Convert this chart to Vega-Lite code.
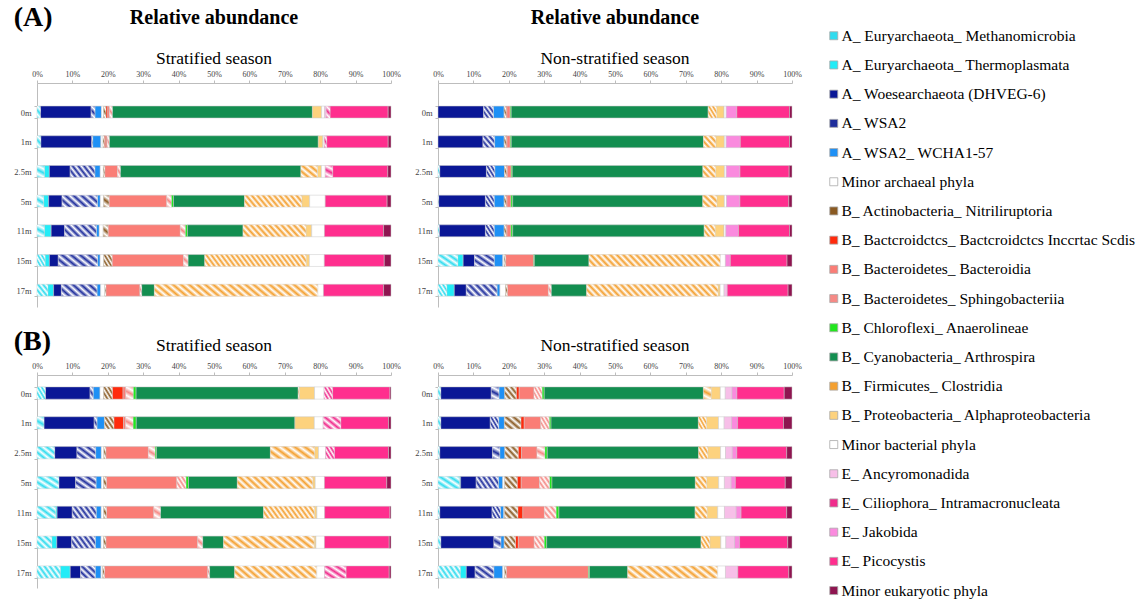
{
"$schema": "https://vega.github.io/schema/vega-lite/v6.json",
"padding": {"left": 13, "top": 3, "right": 0, "bottom": 0},
"config": {
  "font": "Liberation Serif",
  "view": {"stroke": null},
  "title": {"font": "Liberation Serif", "color": "#000", "subtitleFont": "Liberation Serif", "subtitleColor": "#000"},
  "axis": {"labelFont": "Liberation Serif", "domainColor": "#bdbdbd", "tickColor": "#bdbdbd", "labelColor": "#444", "grid": false, "title": null},
  "style": {
    "hA": {"color": {"gradient": "linear", "x1": 0, "y1": 1, "x2": 0.4, "y2": -0.2, "stops": [
      {"offset": 0, "color": "rgba(255,255,255,0)"}, {"offset": 0.25, "color": "#fff"}, {"offset": 0.5, "color": "rgba(255,255,255,0)"}, {"offset": 0.75, "color": "#fff"}, {"offset": 1, "color": "rgba(255,255,255,0)"}]}},
    "hB": {"color": {"gradient": "linear", "x1": 0, "y1": 1, "x2": 1.0706, "y2": 0.0824, "stops": [
      {"offset": 0, "color": "rgba(255,255,255,0)"}, {"offset": 0.125, "color": "#fff"}, {"offset": 0.25, "color": "rgba(255,255,255,0)"}, {"offset": 0.375, "color": "#fff"}, {"offset": 0.5, "color": "rgba(255,255,255,0)"}, {"offset": 0.625, "color": "#fff"}, {"offset": 0.75, "color": "rgba(255,255,255,0)"}, {"offset": 0.875, "color": "#fff"}, {"offset": 1, "color": "rgba(255,255,255,0)"}]}},
    "hC": {"color": {"gradient": "linear", "x1": 0, "y1": 1, "x2": 1.2055, "y2": 0.548, "stops": [
      {"offset": 0, "color": "rgba(255,255,255,0)"}, {"offset": 0.0833, "color": "#fff"}, {"offset": 0.1667, "color": "rgba(255,255,255,0)"}, {"offset": 0.25, "color": "#fff"}, {"offset": 0.3333, "color": "rgba(255,255,255,0)"}, {"offset": 0.4167, "color": "#fff"}, {"offset": 0.5, "color": "rgba(255,255,255,0)"}, {"offset": 0.5833, "color": "#fff"}, {"offset": 0.6667, "color": "rgba(255,255,255,0)"}, {"offset": 0.75, "color": "#fff"}, {"offset": 0.8333, "color": "rgba(255,255,255,0)"}, {"offset": 0.9167, "color": "#fff"}, {"offset": 1, "color": "rgba(255,255,255,0)"}]}},
    "hD": {"color": {"gradient": "linear", "x1": 0, "y1": 1, "x2": 1.138, "y2": 0.805, "stops": [
      {"offset": 0, "color": "rgba(255,255,255,0)"}, {"offset": 0.0417, "color": "#fff"}, {"offset": 0.0833, "color": "rgba(255,255,255,0)"}, {"offset": 0.125, "color": "#fff"}, {"offset": 0.1667, "color": "rgba(255,255,255,0)"}, {"offset": 0.2083, "color": "#fff"}, {"offset": 0.25, "color": "rgba(255,255,255,0)"}, {"offset": 0.2917, "color": "#fff"}, {"offset": 0.3333, "color": "rgba(255,255,255,0)"}, {"offset": 0.375, "color": "#fff"}, {"offset": 0.4167, "color": "rgba(255,255,255,0)"}, {"offset": 0.4583, "color": "#fff"}, {"offset": 0.5, "color": "rgba(255,255,255,0)"}, {"offset": 0.5417, "color": "#fff"}, {"offset": 0.5833, "color": "rgba(255,255,255,0)"}, {"offset": 0.625, "color": "#fff"}, {"offset": 0.6667, "color": "rgba(255,255,255,0)"}, {"offset": 0.7083, "color": "#fff"}, {"offset": 0.75, "color": "rgba(255,255,255,0)"}, {"offset": 0.7917, "color": "#fff"}, {"offset": 0.8333, "color": "rgba(255,255,255,0)"}, {"offset": 0.875, "color": "#fff"}, {"offset": 0.9167, "color": "rgba(255,255,255,0)"}, {"offset": 0.9583, "color": "#fff"}, {"offset": 1, "color": "rgba(255,255,255,0)"}]}},
    "hE": {"color": {"gradient": "linear", "x1": 0, "y1": 1, "x2": 1.0778, "y2": 0.9076, "stops": [
      {"offset": 0, "color": "rgba(255,255,255,0)"}, {"offset": 0.0227, "color": "#fff"}, {"offset": 0.0455, "color": "rgba(255,255,255,0)"}, {"offset": 0.0682, "color": "#fff"}, {"offset": 0.0909, "color": "rgba(255,255,255,0)"}, {"offset": 0.1136, "color": "#fff"}, {"offset": 0.1364, "color": "rgba(255,255,255,0)"}, {"offset": 0.1591, "color": "#fff"}, {"offset": 0.1818, "color": "rgba(255,255,255,0)"}, {"offset": 0.2045, "color": "#fff"}, {"offset": 0.2273, "color": "rgba(255,255,255,0)"}, {"offset": 0.25, "color": "#fff"}, {"offset": 0.2727, "color": "rgba(255,255,255,0)"}, {"offset": 0.2955, "color": "#fff"}, {"offset": 0.3182, "color": "rgba(255,255,255,0)"}, {"offset": 0.3409, "color": "#fff"}, {"offset": 0.3636, "color": "rgba(255,255,255,0)"}, {"offset": 0.3864, "color": "#fff"}, {"offset": 0.4091, "color": "rgba(255,255,255,0)"}, {"offset": 0.4318, "color": "#fff"}, {"offset": 0.4545, "color": "rgba(255,255,255,0)"}, {"offset": 0.4773, "color": "#fff"}, {"offset": 0.5, "color": "rgba(255,255,255,0)"}, {"offset": 0.5227, "color": "#fff"}, {"offset": 0.5455, "color": "rgba(255,255,255,0)"}, {"offset": 0.5682, "color": "#fff"}, {"offset": 0.5909, "color": "rgba(255,255,255,0)"}, {"offset": 0.6136, "color": "#fff"}, {"offset": 0.6364, "color": "rgba(255,255,255,0)"}, {"offset": 0.6591, "color": "#fff"}, {"offset": 0.6818, "color": "rgba(255,255,255,0)"}, {"offset": 0.7045, "color": "#fff"}, {"offset": 0.7273, "color": "rgba(255,255,255,0)"}, {"offset": 0.75, "color": "#fff"}, {"offset": 0.7727, "color": "rgba(255,255,255,0)"}, {"offset": 0.7955, "color": "#fff"}, {"offset": 0.8182, "color": "rgba(255,255,255,0)"}, {"offset": 0.8409, "color": "#fff"}, {"offset": 0.8636, "color": "rgba(255,255,255,0)"}, {"offset": 0.8864, "color": "#fff"}, {"offset": 0.9091, "color": "rgba(255,255,255,0)"}, {"offset": 0.9318, "color": "#fff"}, {"offset": 0.9545, "color": "rgba(255,255,255,0)"}, {"offset": 0.9773, "color": "#fff"}, {"offset": 1, "color": "rgba(255,255,255,0)"}]}}
  }
},
"datasets": {
  "cats": [
    {"k": "c01", "name": "A_ Euryarchaeota_ Methanomicrobia", "h": 1},
    {"k": "c02", "name": "A_ Euryarchaeota_ Thermoplasmata", "h": 0},
    {"k": "c03", "name": "A_ Woesearchaeota (DHVEG-6)", "h": 0},
    {"k": "c04", "name": "A_ WSA2", "h": 1},
    {"k": "c05", "name": "A_ WSA2_ WCHA1-57", "h": 0},
    {"k": "c06", "name": "Minor archaeal phyla", "h": 0},
    {"k": "c07", "name": "B_ Actinobacteria_ Nitriliruptoria", "h": 1},
    {"k": "c08", "name": "B_ Bactcroidctcs_ Bactcroidctcs Inccrtac Scdis", "h": 0},
    {"k": "c09", "name": "B_ Bacteroidetes_ Bacteroidia", "h": 0},
    {"k": "c10", "name": "B_ Bacteroidetes_ Sphingobacteriia", "h": 1},
    {"k": "c11", "name": "B_ Chloroflexi_ Anaerolineae", "h": 0},
    {"k": "c12", "name": "B_ Cyanobacteria_ Arthrospira", "h": 0},
    {"k": "c13", "name": "B_ Firmicutes_ Clostridia", "h": 1},
    {"k": "c14", "name": "B_ Proteobacteria_ Alphaproteobacteria", "h": 0},
    {"k": "c15", "name": "Minor bacterial phyla", "h": 0},
    {"k": "c16", "name": "E_ Ancyromonadida", "h": 0},
    {"k": "c17", "name": "E_ Ciliophora_ Intramacronucleata", "h": 1},
    {"k": "c18", "name": "E_ Jakobida", "h": 0},
    {"k": "c19", "name": "E_ Picocystis", "h": 0},
    {"k": "c20", "name": "Minor eukaryotic phyla", "h": 0}
  ]
},
"data": {"values": [
  {"p": "As", "d": "0m", "c01": 1, "c03": 14.3, "c04": 1.1, "c05": 1.8, "c06": 0.6, "c07": 0.7, "c08": 0.5, "c09": 0.5, "c10": 0.8, "c12": 56.5, "c14": 2.6, "c15": 0.8, "c16": 0.5, "c17": 1.1, "c19": 16.4, "c20": 0.8},
  {"p": "As", "d": "1m", "c01": 1.1, "c03": 14.4, "c04": 0.3, "c05": 2.3, "c06": 0.6, "c07": 0.4, "c08": 0.4, "c09": 0.4, "c10": 0.6, "c12": 59.2, "c14": 1.3, "c15": 0.4, "c17": 0.7, "c19": 17.4, "c20": 0.8},
  {"p": "As", "d": "2.5m", "c01": 2.1, "c02": 1.4, "c03": 5.9, "c04": 7.0, "c05": 1.5, "c06": 0.9, "c07": 0.4, "c09": 3.6, "c10": 0.8, "c12": 51.1, "c13": 4.7, "c14": 1.1, "c15": 1.1, "c17": 2.1, "c19": 15.6, "c20": 0.9},
  {"p": "As", "d": "5m", "c01": 1.9, "c02": 1.4, "c03": 3.8, "c04": 10.0, "c05": 0.8, "c06": 0.9, "c07": 1.6, "c09": 16.3, "c10": 1.3, "c11": 0.6, "c12": 20.1, "c13": 16.2, "c14": 2.2, "c15": 4.4, "c19": 17.5, "c20": 1.1},
  {"p": "As", "d": "11m", "c01": 2.1, "c02": 1.9, "c03": 3.8, "c04": 9.0, "c05": 0.8, "c06": 1.1, "c07": 1.4, "c09": 20.4, "c10": 1.4, "c11": 0.6, "c12": 15.7, "c13": 17.8, "c14": 1.6, "c15": 3.6, "c19": 16.7, "c20": 2.1},
  {"p": "As", "d": "15m", "c01": 2.3, "c02": 1.2, "c03": 2.5, "c04": 11.1, "c05": 0.7, "c06": 1.0, "c07": 2.4, "c09": 20.1, "c10": 1.3, "c12": 4.7, "c13": 28.6, "c14": 0.9, "c15": 4.2, "c19": 16.9, "c20": 1.9},
  {"p": "As", "d": "17m", "c01": 3.1, "c02": 1.6, "c03": 2.2, "c04": 10.1, "c05": 1.0, "c06": 1.2, "c07": 0.3, "c09": 9.6, "c10": 0.5, "c12": 3.6, "c13": 46.2, "c15": 1.6, "c19": 17.0, "c20": 2.1},
  {"p": "An", "d": "0m", "c03": 12.9, "c04": 2.8, "c05": 3.0, "c07": 0.6, "c08": 0.2, "c09": 0.9, "c11": 0.3, "c12": 55.7, "c13": 2.4, "c14": 2.1, "c15": 0.6, "c18": 3.0, "c19": 14.9, "c20": 0.7},
  {"p": "An", "d": "1m", "c03": 12.7, "c04": 3.3, "c05": 2.7, "c07": 0.6, "c08": 0.2, "c09": 0.9, "c11": 0.3, "c12": 54.3, "c13": 3.5, "c14": 2.4, "c15": 0.5, "c18": 4.0, "c19": 13.9, "c20": 0.7},
  {"p": "An", "d": "2.5m", "c01": 0.5, "c03": 13.2, "c04": 2.4, "c05": 2.7, "c07": 0.6, "c08": 0.2, "c09": 1.1, "c11": 0.3, "c12": 53.9, "c13": 3.6, "c14": 2.5, "c15": 0.5, "c18": 3.9, "c19": 13.9, "c20": 0.8},
  {"p": "An", "d": "5m", "c01": 0.2, "c03": 13.2, "c04": 2.5, "c05": 2.8, "c07": 0.6, "c08": 0.2, "c09": 1.1, "c11": 0.5, "c12": 53.7, "c13": 4.0, "c14": 2.1, "c15": 0.6, "c18": 3.8, "c19": 13.8, "c20": 0.9},
  {"p": "An", "d": "11m", "c01": 0.4, "c03": 13.0, "c04": 2.5, "c05": 2.8, "c07": 0.6, "c08": 0.2, "c09": 1.1, "c11": 0.5, "c12": 54.1, "c13": 3.1, "c14": 2.5, "c15": 0.5, "c18": 3.6, "c19": 14.4, "c20": 0.7},
  {"p": "An", "d": "15m", "c01": 5.6, "c02": 1.5, "c03": 3.2, "c04": 5.6, "c05": 2.4, "c06": 0.4, "c07": 0.4, "c09": 7.9, "c11": 0.2, "c12": 15.4, "c13": 37.1, "c15": 1.4, "c18": 1.4, "c19": 16.0, "c20": 1.4},
  {"p": "An", "d": "17m", "c01": 2.5, "c02": 2.1, "c03": 3.4, "c04": 8.7, "c05": 0.8, "c06": 1.6, "c07": 0.5, "c09": 11.6, "c10": 0.8, "c12": 10.0, "c13": 37.1, "c14": 0.6, "c15": 1.1, "c16": 0.9, "c19": 17.2, "c20": 1.1},
  {"p": "Bs", "d": "0m", "c01": 2.4, "c03": 12.6, "c04": 0.9, "c05": 1.9, "c06": 1.0, "c07": 2.5, "c08": 3.0, "c09": 0.8, "c10": 2.1, "c11": 0.8, "c12": 45.8, "c13": 0.3, "c14": 4.3, "c15": 2.7, "c17": 2.4, "c19": 16.2, "c20": 0.3},
  {"p": "Bs", "d": "1m", "c01": 2.0, "c03": 14.2, "c04": 0.8, "c05": 2.1, "c07": 2.7, "c08": 2.7, "c09": 0.6, "c10": 2.1, "c11": 0.9, "c12": 44.9, "c14": 5.5, "c15": 2.5, "c17": 5.0, "c19": 13.5, "c20": 0.7},
  {"p": "Bs", "d": "2.5m", "c01": 5.0, "c03": 6.3, "c04": 5.3, "c05": 1.6, "c06": 0.7, "c07": 0.6, "c09": 12.0, "c10": 1.9, "c11": 0.4, "c12": 32.2, "c13": 12.5, "c14": 1.1, "c15": 2.0, "c17": 2.5, "c19": 15.3, "c20": 0.7},
  {"p": "Bs", "d": "5m", "c01": 6.2, "c03": 4.7, "c04": 5.8, "c05": 1.5, "c06": 0.6, "c07": 0.8, "c09": 19.9, "c10": 2.6, "c11": 0.7, "c12": 13.8, "c13": 21.3, "c14": 0.7, "c15": 2.6, "c19": 17.6, "c20": 1.2},
  {"p": "Bs", "d": "11m", "c01": 5.3, "c02": 0.4, "c03": 4.3, "c04": 6.8, "c05": 1.4, "c06": 0.7, "c07": 0.8, "c09": 13.4, "c10": 1.9, "c12": 29.2, "c13": 14.4, "c14": 0.7, "c15": 2.2, "c19": 18.5, "c20": 0.3},
  {"p": "Bs", "d": "15m", "c01": 4.2, "c02": 1.4, "c03": 4.2, "c04": 6.7, "c05": 1.6, "c06": 0.7, "c07": 0.7, "c09": 25.9, "c10": 1.4, "c12": 5.9, "c13": 25.6, "c14": 0.5, "c15": 2.4, "c19": 18.3, "c20": 0.5},
  {"p": "Bs", "d": "17m", "c01": 6.6, "c02": 2.8, "c03": 2.9, "c04": 4.2, "c05": 1.6, "c06": 0.5, "c07": 0.5, "c09": 29.2, "c10": 0.5, "c12": 7.1, "c13": 23.2, "c15": 2.2, "c17": 6.1, "c19": 12.2, "c20": 0.5},
  {"p": "Bn", "d": "0m", "c01": 0.8, "c03": 14.3, "c04": 2.2, "c05": 1.6, "c07": 3.3, "c08": 0.8, "c09": 4.2, "c10": 2.3, "c11": 0.6, "c12": 45.1, "c13": 2.2, "c14": 2.6, "c15": 1.4, "c16": 1.9, "c18": 1.4, "c19": 13.4, "c20": 2.2},
  {"p": "Bn", "d": "1m", "c01": 0.8, "c03": 14.0, "c04": 2.4, "c05": 1.6, "c07": 4.7, "c08": 0.9, "c09": 4.7, "c10": 2.4, "c11": 0.5, "c12": 41.7, "c13": 2.3, "c14": 3.4, "c15": 1.6, "c16": 2.1, "c18": 1.7, "c19": 13.0, "c20": 2.4},
  {"p": "Bn", "d": "2.5m", "c01": 0.5, "c03": 14.9, "c04": 2.1, "c05": 1.4, "c07": 3.8, "c08": 0.9, "c09": 4.4, "c10": 2.2, "c11": 0.7, "c12": 42.8, "c13": 2.6, "c14": 3.6, "c15": 1.4, "c16": 1.9, "c18": 1.3, "c19": 14.1, "c20": 1.5},
  {"p": "Bn", "d": "5m", "c01": 6.1, "c02": 0.3, "c03": 4.4, "c04": 6.3, "c05": 1.2, "c06": 0.5, "c07": 3.6, "c08": 1.1, "c09": 5.2, "c10": 2.8, "c11": 0.7, "c12": 40.5, "c13": 3.2, "c14": 3.4, "c15": 1.6, "c16": 1.9, "c18": 1.2, "c19": 14.1, "c20": 1.9},
  {"p": "Bn", "d": "11m", "c01": 0.5, "c03": 14.8, "c04": 2.4, "c05": 0.9, "c06": 0.2, "c07": 3.8, "c08": 1.4, "c09": 6.1, "c10": 3.3, "c11": 0.8, "c12": 38.5, "c13": 3.4, "c14": 3.0, "c15": 1.9, "c16": 3.3, "c18": 1.4, "c19": 12.9, "c20": 1.5},
  {"p": "Bn", "d": "15m", "c01": 0.8, "c03": 15.0, "c04": 2.0, "c05": 0.9, "c07": 3.2, "c08": 0.8, "c09": 4.5, "c10": 2.8, "c11": 0.7, "c12": 43.6, "c13": 2.5, "c14": 3.1, "c15": 1.4, "c16": 2.5, "c18": 1.4, "c19": 13.6, "c20": 1.2},
  {"p": "Bn", "d": "17m", "c01": 6.3, "c02": 1.7, "c03": 2.5, "c04": 5.3, "c05": 2.5, "c06": 0.5, "c07": 0.5, "c09": 23.2, "c11": 0.3, "c12": 10.8, "c13": 25.4, "c15": 2.2, "c16": 3.5, "c19": 14.4, "c20": 0.9}
]},
"transform": [
  {"fold": ["c01","c02","c03","c04","c05","c06","c07","c08","c09","c10","c11","c12","c13","c14","c15","c16","c17","c18","c19","c20"], "as": ["k", "v"]},
  {"filter": "datum.v > 0"},
  {"lookup": "k", "from": {"data": {"name": "cats"}, "key": "k", "fields": ["name", "h"]}},
  {"stack": "v", "groupby": ["p", "d"], "sort": [{"field": "k", "order": "ascending"}], "as": ["x0", "x1"], "offset": "normalize"}
],
"spacing": 20,
"vconcat": [
  {
    "title": {"text": "(A)", "anchor": "start", "fontSize": 28, "fontWeight": "bold", "offset": -24},
    "spacing": 13,
    "hconcat": [
      {
        "width": 354, "height": 224,
        "title": {"text": "Relative abundance", "subtitle": "Stratified season", "fontSize": 20, "fontWeight": "bold", "subtitleFontSize": 17.5, "subtitlePadding": 22, "offset": 3},
        "transform": [{"filter": "datum.p == 'As'"}],
        "encoding": {
          "y": {"field": "d", "type": "nominal", "sort": ["0m","1m","2.5m","5m","11m","15m","17m"], "scale": {"paddingInner": 0.6, "paddingOuter": 0.572, "align": 0.68}, "axis": {"labelFontSize": 8.5, "tickSize": 3, "labelPadding": 3, "tickBand": "extent"}},
          "x": {"field": "x0", "type": "quantitative", "scale": {"domain": [0, 1]}, "axis": {"orient": "top", "format": ".0%", "values": [0,0.1,0.2,0.3,0.4,0.5,0.6,0.7,0.8,0.9,1], "labelFontSize": 8, "tickSize": 3, "labelPadding": 2, "labelFlush": false}},
          "x2": {"field": "x1"}
        },
        "layer": [
          {"mark": {"type": "bar", "stroke": "#c8c8c8", "strokeWidth": 0.5},
           "encoding": {"color": {"field": "name", "type": "nominal",
             "scale": {"domain": ["A_ Euryarchaeota_ Methanomicrobia","A_ Euryarchaeota_ Thermoplasmata","A_ Woesearchaeota (DHVEG-6)","A_ WSA2","A_ WSA2_ WCHA1-57","Minor archaeal phyla","B_ Actinobacteria_ Nitriliruptoria","B_ Bactcroidctcs_ Bactcroidctcs Inccrtac Scdis","B_ Bacteroidetes_ Bacteroidia","B_ Bacteroidetes_ Sphingobacteriia","B_ Chloroflexi_ Anaerolineae","B_ Cyanobacteria_ Arthrospira","B_ Firmicutes_ Clostridia","B_ Proteobacteria_ Alphaproteobacteria","Minor bacterial phyla","E_ Ancyromonadida","E_ Ciliophora_ Intramacronucleata","E_ Jakobida","E_ Picocystis","Minor eukaryotic phyla"],
                       "range": ["#30dcef","#22ecf7","#0a1796","#1e2d9c","#1e90f5","#ffffff","#8a5a22","#ff2a0c","#fa7d76","#f58a86","#22e61e","#138e50","#f4a030","#fdd27e","#ffffff","#f7bfe8","#f02c8c","#fa8ade","#ff2e8e","#8e1550"]},
             "legend": {"title": null, "orient": "none", "legendX": 789, "legendY": -55, "symbolType": "square", "symbolSize": 64, "symbolStrokeColor": "#aaaaaa", "symbolStrokeWidth": 0.8, "labelFont": "Liberation Serif", "labelFontSize": 15.5, "labelColor": "#000", "rowPadding": 12.2, "labelOffset": 0, "labelLimit": 0}}}},
          {"transform": [{"filter": "datum.h == 1 && datum.x1 - datum.x0 < 0.0226"}], "mark": {"type": "bar", "style": "hA"}},
          {"transform": [{"filter": "datum.h == 1 && datum.x1 - datum.x0 >= 0.0226 && datum.x1 - datum.x0 < 0.062"}], "mark": {"type": "bar", "style": "hB"}},
          {"transform": [{"filter": "datum.h == 1 && datum.x1 - datum.x0 >= 0.062 && datum.x1 - datum.x0 < 0.127"}], "mark": {"type": "bar", "style": "hC"}},
          {"transform": [{"filter": "datum.h == 1 && datum.x1 - datum.x0 >= 0.127 && datum.x1 - datum.x0 < 0.282"}], "mark": {"type": "bar", "style": "hD"}},
          {"transform": [{"filter": "datum.h == 1 && datum.x1 - datum.x0 >= 0.282"}], "mark": {"type": "bar", "style": "hE"}}
        ]
      },
      {
        "width": 354, "height": 224,
        "title": {"text": "Relative abundance", "subtitle": "Non-stratified season", "fontSize": 20, "fontWeight": "bold", "subtitleFontSize": 17.5, "subtitlePadding": 22, "offset": 3},
        "transform": [{"filter": "datum.p == 'An'"}],
        "encoding": {
          "y": {"field": "d", "type": "nominal", "sort": ["0m","1m","2.5m","5m","11m","15m","17m"], "scale": {"paddingInner": 0.6, "paddingOuter": 0.572, "align": 0.68}, "axis": {"labelFontSize": 8.5, "tickSize": 3, "labelPadding": 3, "tickBand": "extent"}},
          "x": {"field": "x0", "type": "quantitative", "scale": {"domain": [0, 1]}, "axis": {"orient": "top", "format": ".0%", "values": [0,0.1,0.2,0.3,0.4,0.5,0.6,0.7,0.8,0.9,1], "labelFontSize": 8, "tickSize": 3, "labelPadding": 2, "labelFlush": false}},
          "x2": {"field": "x1"}
        },
        "layer": [
          {"mark": {"type": "bar", "stroke": "#c8c8c8", "strokeWidth": 0.5},
           "encoding": {"color": {"field": "name", "type": "nominal",
             "scale": {"domain": ["A_ Euryarchaeota_ Methanomicrobia","A_ Euryarchaeota_ Thermoplasmata","A_ Woesearchaeota (DHVEG-6)","A_ WSA2","A_ WSA2_ WCHA1-57","Minor archaeal phyla","B_ Actinobacteria_ Nitriliruptoria","B_ Bactcroidctcs_ Bactcroidctcs Inccrtac Scdis","B_ Bacteroidetes_ Bacteroidia","B_ Bacteroidetes_ Sphingobacteriia","B_ Chloroflexi_ Anaerolineae","B_ Cyanobacteria_ Arthrospira","B_ Firmicutes_ Clostridia","B_ Proteobacteria_ Alphaproteobacteria","Minor bacterial phyla","E_ Ancyromonadida","E_ Ciliophora_ Intramacronucleata","E_ Jakobida","E_ Picocystis","Minor eukaryotic phyla"],
                       "range": ["#30dcef","#22ecf7","#0a1796","#1e2d9c","#1e90f5","#ffffff","#8a5a22","#ff2a0c","#fa7d76","#f58a86","#22e61e","#138e50","#f4a030","#fdd27e","#ffffff","#f7bfe8","#f02c8c","#fa8ade","#ff2e8e","#8e1550"]},
             "legend": {"title": null, "orient": "none", "legendX": 789, "legendY": -55, "symbolType": "square", "symbolSize": 64, "symbolStrokeColor": "#aaaaaa", "symbolStrokeWidth": 0.8, "labelFont": "Liberation Serif", "labelFontSize": 15.5, "labelColor": "#000", "rowPadding": 12.2, "labelOffset": 0, "labelLimit": 0}}}},
          {"transform": [{"filter": "datum.h == 1 && datum.x1 - datum.x0 < 0.0226"}], "mark": {"type": "bar", "style": "hA"}},
          {"transform": [{"filter": "datum.h == 1 && datum.x1 - datum.x0 >= 0.0226 && datum.x1 - datum.x0 < 0.062"}], "mark": {"type": "bar", "style": "hB"}},
          {"transform": [{"filter": "datum.h == 1 && datum.x1 - datum.x0 >= 0.062 && datum.x1 - datum.x0 < 0.127"}], "mark": {"type": "bar", "style": "hC"}},
          {"transform": [{"filter": "datum.h == 1 && datum.x1 - datum.x0 >= 0.127 && datum.x1 - datum.x0 < 0.282"}], "mark": {"type": "bar", "style": "hD"}},
          {"transform": [{"filter": "datum.h == 1 && datum.x1 - datum.x0 >= 0.282"}], "mark": {"type": "bar", "style": "hE"}}
        ]
      }
    ]
  },
  {
    "title": {"text": "(B)", "anchor": "start", "fontSize": 28, "fontWeight": "bold", "offset": -19},
    "spacing": 13,
    "hconcat": [
      {
        "width": 354, "height": 213,
        "title": {"text": "Stratified season", "fontSize": 17.5, "fontWeight": "normal", "offset": 8},
        "transform": [{"filter": "datum.p == 'Bs'"}],
        "encoding": {
          "y": {"field": "d", "type": "nominal", "sort": ["0m","1m","2.5m","5m","11m","15m","17m"], "scale": {"paddingInner": 0.59, "paddingOuter": 0.364, "align": 0.548}, "axis": {"labelFontSize": 8.5, "tickSize": 3, "labelPadding": 3, "tickBand": "extent"}},
          "x": {"field": "x0", "type": "quantitative", "scale": {"domain": [0, 1]}, "axis": {"orient": "top", "format": ".0%", "values": [0,0.1,0.2,0.3,0.4,0.5,0.6,0.7,0.8,0.9,1], "labelFontSize": 8, "tickSize": 3, "labelPadding": 2, "labelFlush": false}},
          "x2": {"field": "x1"}
        },
        "layer": [
          {"mark": {"type": "bar", "stroke": "#c8c8c8", "strokeWidth": 0.5},
           "encoding": {"color": {"field": "name", "type": "nominal",
             "scale": {"domain": ["A_ Euryarchaeota_ Methanomicrobia","A_ Euryarchaeota_ Thermoplasmata","A_ Woesearchaeota (DHVEG-6)","A_ WSA2","A_ WSA2_ WCHA1-57","Minor archaeal phyla","B_ Actinobacteria_ Nitriliruptoria","B_ Bactcroidctcs_ Bactcroidctcs Inccrtac Scdis","B_ Bacteroidetes_ Bacteroidia","B_ Bacteroidetes_ Sphingobacteriia","B_ Chloroflexi_ Anaerolineae","B_ Cyanobacteria_ Arthrospira","B_ Firmicutes_ Clostridia","B_ Proteobacteria_ Alphaproteobacteria","Minor bacterial phyla","E_ Ancyromonadida","E_ Ciliophora_ Intramacronucleata","E_ Jakobida","E_ Picocystis","Minor eukaryotic phyla"],
                       "range": ["#30dcef","#22ecf7","#0a1796","#1e2d9c","#1e90f5","#ffffff","#8a5a22","#ff2a0c","#fa7d76","#f58a86","#22e61e","#138e50","#f4a030","#fdd27e","#ffffff","#f7bfe8","#f02c8c","#fa8ade","#ff2e8e","#8e1550"]},
             "legend": {"title": null, "orient": "none", "legendX": 789, "legendY": -55, "symbolType": "square", "symbolSize": 64, "symbolStrokeColor": "#aaaaaa", "symbolStrokeWidth": 0.8, "labelFont": "Liberation Serif", "labelFontSize": 15.5, "labelColor": "#000", "rowPadding": 12.2, "labelOffset": 0, "labelLimit": 0}}}},
          {"transform": [{"filter": "datum.h == 1 && datum.x1 - datum.x0 < 0.0226"}], "mark": {"type": "bar", "style": "hA"}},
          {"transform": [{"filter": "datum.h == 1 && datum.x1 - datum.x0 >= 0.0226 && datum.x1 - datum.x0 < 0.062"}], "mark": {"type": "bar", "style": "hB"}},
          {"transform": [{"filter": "datum.h == 1 && datum.x1 - datum.x0 >= 0.062 && datum.x1 - datum.x0 < 0.127"}], "mark": {"type": "bar", "style": "hC"}},
          {"transform": [{"filter": "datum.h == 1 && datum.x1 - datum.x0 >= 0.127 && datum.x1 - datum.x0 < 0.282"}], "mark": {"type": "bar", "style": "hD"}},
          {"transform": [{"filter": "datum.h == 1 && datum.x1 - datum.x0 >= 0.282"}], "mark": {"type": "bar", "style": "hE"}}
        ]
      },
      {
        "width": 354, "height": 213,
        "title": {"text": "Non-stratified season", "fontSize": 17.5, "fontWeight": "normal", "offset": 8},
        "transform": [{"filter": "datum.p == 'Bn'"}],
        "encoding": {
          "y": {"field": "d", "type": "nominal", "sort": ["0m","1m","2.5m","5m","11m","15m","17m"], "scale": {"paddingInner": 0.59, "paddingOuter": 0.364, "align": 0.548}, "axis": {"labelFontSize": 8.5, "tickSize": 3, "labelPadding": 3, "tickBand": "extent"}},
          "x": {"field": "x0", "type": "quantitative", "scale": {"domain": [0, 1]}, "axis": {"orient": "top", "format": ".0%", "values": [0,0.1,0.2,0.3,0.4,0.5,0.6,0.7,0.8,0.9,1], "labelFontSize": 8, "tickSize": 3, "labelPadding": 2, "labelFlush": false}},
          "x2": {"field": "x1"}
        },
        "layer": [
          {"mark": {"type": "bar", "stroke": "#c8c8c8", "strokeWidth": 0.5},
           "encoding": {"color": {"field": "name", "type": "nominal",
             "scale": {"domain": ["A_ Euryarchaeota_ Methanomicrobia","A_ Euryarchaeota_ Thermoplasmata","A_ Woesearchaeota (DHVEG-6)","A_ WSA2","A_ WSA2_ WCHA1-57","Minor archaeal phyla","B_ Actinobacteria_ Nitriliruptoria","B_ Bactcroidctcs_ Bactcroidctcs Inccrtac Scdis","B_ Bacteroidetes_ Bacteroidia","B_ Bacteroidetes_ Sphingobacteriia","B_ Chloroflexi_ Anaerolineae","B_ Cyanobacteria_ Arthrospira","B_ Firmicutes_ Clostridia","B_ Proteobacteria_ Alphaproteobacteria","Minor bacterial phyla","E_ Ancyromonadida","E_ Ciliophora_ Intramacronucleata","E_ Jakobida","E_ Picocystis","Minor eukaryotic phyla"],
                       "range": ["#30dcef","#22ecf7","#0a1796","#1e2d9c","#1e90f5","#ffffff","#8a5a22","#ff2a0c","#fa7d76","#f58a86","#22e61e","#138e50","#f4a030","#fdd27e","#ffffff","#f7bfe8","#f02c8c","#fa8ade","#ff2e8e","#8e1550"]},
             "legend": {"title": null, "orient": "none", "legendX": 789, "legendY": -55, "symbolType": "square", "symbolSize": 64, "symbolStrokeColor": "#aaaaaa", "symbolStrokeWidth": 0.8, "labelFont": "Liberation Serif", "labelFontSize": 15.5, "labelColor": "#000", "rowPadding": 12.2, "labelOffset": 0, "labelLimit": 0}}}},
          {"transform": [{"filter": "datum.h == 1 && datum.x1 - datum.x0 < 0.0226"}], "mark": {"type": "bar", "style": "hA"}},
          {"transform": [{"filter": "datum.h == 1 && datum.x1 - datum.x0 >= 0.0226 && datum.x1 - datum.x0 < 0.062"}], "mark": {"type": "bar", "style": "hB"}},
          {"transform": [{"filter": "datum.h == 1 && datum.x1 - datum.x0 >= 0.062 && datum.x1 - datum.x0 < 0.127"}], "mark": {"type": "bar", "style": "hC"}},
          {"transform": [{"filter": "datum.h == 1 && datum.x1 - datum.x0 >= 0.127 && datum.x1 - datum.x0 < 0.282"}], "mark": {"type": "bar", "style": "hD"}},
          {"transform": [{"filter": "datum.h == 1 && datum.x1 - datum.x0 >= 0.282"}], "mark": {"type": "bar", "style": "hE"}}
        ]
      }
    ]
  }
]
}
